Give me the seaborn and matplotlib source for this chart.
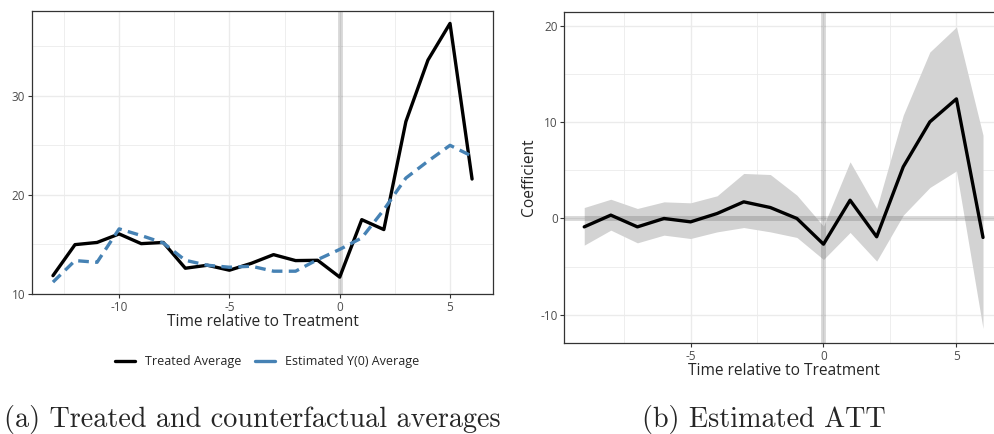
import numpy as np
import pandas as pd
import seaborn as sns
import matplotlib.pyplot as plt
from matplotlib.lines import Line2D

# Panel (a): treated vs counterfactual averages
time_a = list(range(-13, 7))
treated_avg = [11.85, 14.98, 15.2, 16.06, 15.08, 15.2, 12.6, 12.9, 12.4, 13.1,
               13.97, 13.37, 13.4, 11.7, 17.5, 16.5, 27.4, 33.6, 37.3, 21.6]
y0_avg = [11.2, 13.37, 13.2, 16.57, 15.9, 15.15, 13.4, 12.9, 12.7, 12.8,
          12.3, 12.3, 13.47, 14.5, 15.66, 18.5, 21.7, 23.4, 25.0, 23.9]

# Panel (b): estimated ATT with confidence band
time_b = list(range(-9, 7))
att = [-0.87, 0.35, -0.87, 0.0, -0.35, 0.52, 1.73, 1.14, 0.0, -2.67,
       1.9, -1.9, 5.37, 10.04, 12.43, -1.97]
att_hi = [1.14, 2.0, 1.04, 1.73, 1.63, 2.36, 4.68, 4.57, 2.42, -0.8,
          5.89, 1.04, 10.74, 17.3, 19.9, 8.66]
att_lo = [-2.77, -1.21, -2.53, -1.73, -2.08, -1.39, -0.94, -1.39, -1.97, -4.26,
          -1.45, -4.43, 0.35, 3.22, 4.95, -11.43]

sns.set_theme(style="white")
plt.rcParams['font.family'] = ['Open Sans', 'DejaVu Sans']
plt.rcParams['axes.unicode_minus'] = False

GRID = "#ebebeb"
TICK = "#4d4d4d"
STEEL = "#4682b4"


def style_axes(ax, xminor, yminor):
    # theme_bw look: grey border, light major/minor grid
    for s in ax.spines.values():
        s.set_color("#333333")
        s.set_linewidth(0.9)
    ax.set_xticks(xminor, minor=True)
    ax.set_yticks(yminor, minor=True)
    ax.grid(True, which="major", color=GRID, linewidth=1.0)
    ax.grid(True, which="minor", color=GRID, linewidth=0.6)
    ax.set_axisbelow(True)
    ax.tick_params(which="major", length=2.8, width=0.8, color="#333333",
                   labelsize=8.5, labelcolor=TICK, pad=2, bottom=True, left=True)
    ax.tick_params(which="minor", length=0)


fig = plt.figure(figsize=(9.94, 4.34), dpi=100)

# ---- left panel
ax1 = fig.add_axes([0.0322, 0.3226, 0.4638, 0.652])
df_a = pd.DataFrame({"time": time_a + time_a,
                     "value": treated_avg + y0_avg,
                     "series": ["Treated Average"] * len(time_a) + ["Estimated Y(0) Average"] * len(time_a)})
ax1.axvline(0, color="black", alpha=0.14, linewidth=3.6, zorder=1.5)
sns.lineplot(data=df_a[df_a.series == "Treated Average"], x="time", y="value",
             color="black", linewidth=2.4, ax=ax1, zorder=3)
sns.lineplot(data=df_a[df_a.series == "Estimated Y(0) Average"], x="time", y="value",
             color=STEEL, linewidth=2.4, linestyle=(0, (3.2, 1.9)), ax=ax1, zorder=3)
ax1.set_xlim(-13.95, 6.95)
ax1.set_ylim(10, 38.55)
ax1.set_xticks([-10, -5, 0, 5])
ax1.set_yticks([10, 20, 30])
style_axes(ax1, [-12.5, -7.5, -2.5, 2.5], [15, 25, 35])
ax1.set_xlabel("Time relative to Treatment", fontsize=11.2, labelpad=0)
ax1.set_ylabel("")

# legend keys: the dashed key shows a single dash, as in ggplot
handles = [Line2D([], [], color="black", linewidth=2.4),
           Line2D([], [], color=STEEL, linewidth=2.4)]
fig.legend(handles, ["Treated Average", "Estimated Y(0) Average"],
           loc="center", bbox_to_anchor=(267 / 994, 1 - 362 / 434), ncol=2,
           frameon=False, fontsize=9, handlelength=1.6, columnspacing=1.1,
           handletextpad=0.8)

# ---- right panel (extends past the right edge, as in the reference crop)
ax2 = fig.add_axes([0.5677, 0.209, 0.4413, 0.764])
ax2.fill_between(time_b, att_lo, att_hi, color="#d3d3d3", linewidth=0, zorder=1)
ax2.axvline(0, color="black", alpha=0.14, linewidth=3.6, zorder=1.5)
ax2.axhline(0, color="black", alpha=0.14, linewidth=3.6, zorder=1.5)
sns.lineplot(x=time_b, y=att, color="black", linewidth=2.4, ax=ax2, zorder=3)
ax2.set_xlim(-9.75, 6.75)
ax2.set_ylim(-12.97, 21.49)
ax2.set_xticks([-5, 0, 5])
ax2.set_yticks([-10, 0, 10, 20])
style_axes(ax2, [-7.5, -2.5, 2.5], [-5, 5, 15])
ax2.set_xlabel("Time relative to Treatment", fontsize=11.2, labelpad=0)
ax2.set_ylabel("Coefficient", fontsize=11.2, labelpad=2)

# ---- LaTeX-style subcaptions
fig.text(252 / 994, 1 - 420 / 434, "(a) Treated and counterfactual averages",
         family="cmr10", fontsize=20.3, ha="center", va="center")
fig.text(764 / 994, 1 - 420 / 434, "(b) Estimated ATT",
         family="cmr10", fontsize=20.3, ha="center", va="center")

fig.savefig("out.png", dpi=100)
